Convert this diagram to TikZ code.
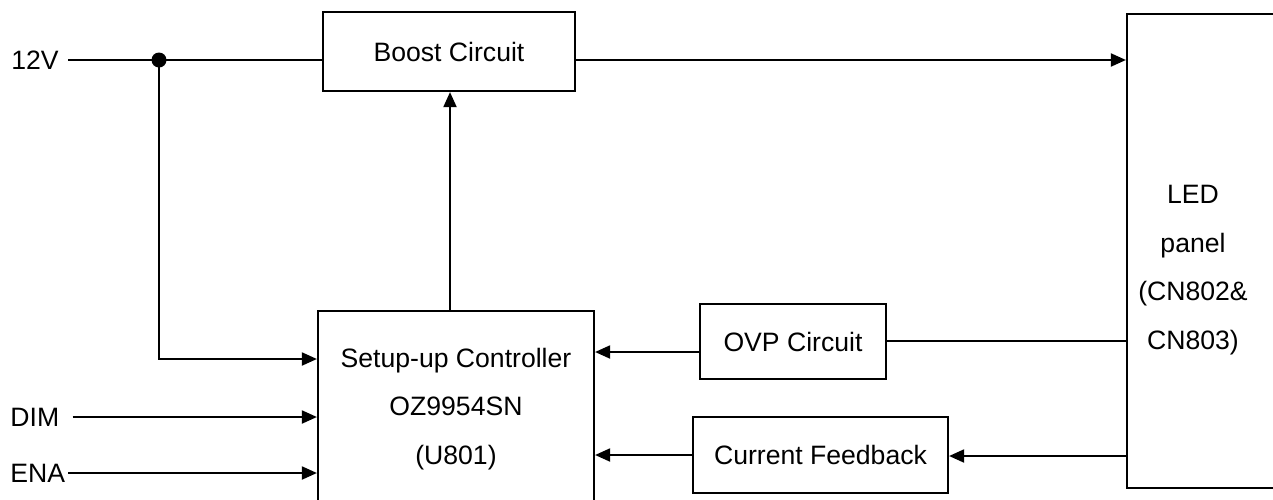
\documentclass[tikz,border=0pt]{standalone}
\usepackage{fontspec}
\setmainfont{Liberation Sans}
\usetikzlibrary{arrows.meta}
\begin{document}
\begin{tikzpicture}[x=0.5pt,y=-0.5pt,
  txt/.style={font=\fontsize{13.3pt}{24.4pt}\selectfont},
  blk/.style={draw, line width=1.1pt, inner sep=0pt, txt},
  lbl/.style={inner sep=0pt, txt},
  wire/.style={line width=1pt},
  arr/.style={wire, -{Triangle[length=7.5pt,width=6.5pt]}}]
\useasboundingbox (0,0) rectangle (1273,499);
\clip (0,0) rectangle (1273,499);
% blocks
\node[blk, minimum width=126pt, minimum height=39.5pt] (boost) at (449,51.5) {Boost Circuit};
\node[blk, minimum width=93pt, minimum height=37.5pt] (ovp) at (793,341.5) {OVP Circuit};
\node[blk, minimum width=127.5pt, minimum height=38pt] (cf) at (820.5,455) {Current Feedback};
\node[blk, minimum width=138pt, minimum height=98pt] (ctrl) at (456,409) {};
\node[lbl, align=center] (ctrltxt) at (456,409) {Setup-up Controller\\OZ9954SN\\(U801)};
\node[blk, minimum width=81.5pt, minimum height=237pt] (led) at (1208.5,251) {};
\node[lbl, align=center] (ledtxt) at (1193,270) {LED\\panel\\(CN802\&\\CN803)};
% input labels
\node[lbl, anchor=west] (v12) at (11,60) {12V};
\node[lbl, anchor=west] (dim) at (10,417) {DIM};
\node[lbl, anchor=west] (ena) at (10,473) {ENA};
% helper coordinates
\coordinate (j) at (159,60);
\coordinate (ya) at (0,359);
\coordinate (yb) at (0,352);
\coordinate (yc) at (0,341);
\coordinate (yd) at (0,456);
\coordinate (ye) at (0,455);
\coordinate (xa) at (450,0);
% connectors
\draw[wire] ([xshift=4.5pt]v12.east) -- (j) -- (boost.west |- j);
\fill (j) circle (7.5);
\draw[arr] (boost.east |- j) -- (led.west |- j);
\draw[arr] (j) |- (ctrl.west |- ya);
\draw[arr] (ctrl.north -| xa) -- (boost.south -| xa);
\draw[arr] ([xshift=6.5pt]dim.east) -- (ctrl.west |- dim.east);
\draw[arr] ([xshift=1.5pt]ena.east) -- (ctrl.west |- ena.east);
\draw[wire] (led.west |- yc) -- (ovp.east |- yc);
\draw[arr] (ovp.west |- yb) -- (ctrl.east |- yb);
\draw[arr] (led.west |- yd) -- (cf.east |- yd);
\draw[arr] (cf.west |- ye) -- (ctrl.east |- ye);
\end{tikzpicture}
\end{document}
